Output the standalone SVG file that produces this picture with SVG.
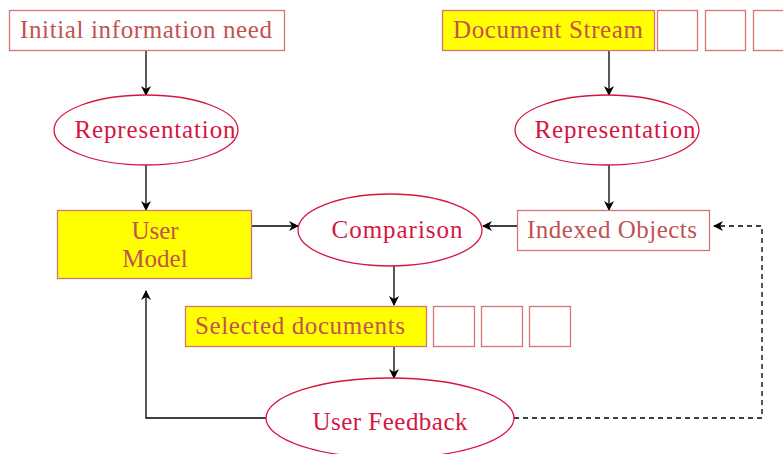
<svg xmlns="http://www.w3.org/2000/svg" width="783" height="454" viewBox="0 0 783 454">
  <defs>
    <marker id="arrow" viewBox="0 0 10 10" refX="9" refY="5" markerWidth="10" markerHeight="10" markerUnits="userSpaceOnUse" orient="auto">
      <path d="M0,0 L10,5 L0,10 L3,5 Z" fill="#000"/>
    </marker>
  </defs>
  <style>
    .box { fill: #fff; stroke: #d27575; stroke-width: 1.3; }
    .hl { fill: #ffff00; stroke: #d27575; stroke-width: 1.3; }
    .ell { fill: #fff; stroke: #d6163f; stroke-width: 1.3; }
    .bt { font-family: "Liberation Serif", "DejaVu Serif", serif; font-size: 25px; fill: #c25252; text-anchor: middle; }
    .et { font-family: "Liberation Serif", "DejaVu Serif", serif; font-size: 25px; fill: #d6163f; text-anchor: middle; }
    .edge { fill: none; stroke: #000; stroke-width: 1.3; }
    .dash { stroke-dasharray: 5 4; }
  </style>

  <!-- connectors -->
  <g id="connectors">
    <line class="edge" x1="146" y1="50" x2="146" y2="95" marker-end="url(#arrow)"/>
    <line class="edge" x1="609" y1="50" x2="609" y2="95" marker-end="url(#arrow)"/>
    <line class="edge" x1="146" y1="165" x2="146" y2="210" marker-end="url(#arrow)"/>
    <line class="edge" x1="609" y1="165" x2="609" y2="210" marker-end="url(#arrow)"/>
    <line class="edge" x1="251" y1="226" x2="298" y2="226" marker-end="url(#arrow)"/>
    <line class="edge" x1="517" y1="226" x2="483" y2="226" marker-end="url(#arrow)"/>
    <line class="edge" x1="394" y1="266" x2="394" y2="305" marker-end="url(#arrow)"/>
    <line class="edge" x1="394" y1="346" x2="394" y2="378" marker-end="url(#arrow)"/>
    <polyline class="edge" points="266,418 146,418 146,291" marker-end="url(#arrow)"/>
    <polyline class="edge dash" points="514,418 762,418 762,226 714,226" marker-end="url(#arrow)"/>
  </g>

  <g id="initial-need">
    <rect class="box" x="9.5" y="10.5" width="275" height="40"/>
    <text class="bt" x="146" y="38" textLength="252">Initial information need</text>
  </g>

  <g id="document-stream">
    <rect class="hl" x="442.5" y="10.5" width="212" height="40"/>
    <text class="bt" x="548" y="38" textLength="190">Document Stream</text>
    <rect class="box" x="657.5" y="10.5" width="40" height="40"/>
    <rect class="box" x="705.5" y="10.5" width="40" height="40"/>
    <rect class="box" x="753.5" y="10.5" width="40" height="40"/>
  </g>

  <g id="representation-left">
    <ellipse class="ell" cx="146" cy="130" rx="92" ry="35"/>
    <text class="et" x="155" y="138" textLength="161">Representation</text>
  </g>

  <g id="representation-right">
    <ellipse class="ell" cx="607" cy="130" rx="92" ry="35"/>
    <text class="et" x="615" y="138" textLength="161">Representation</text>
  </g>

  <g id="user-model">
    <rect class="hl" x="57.5" y="210.5" width="194" height="68"/>
    <text class="bt" x="155" y="239">User</text>
    <text class="bt" x="155" y="267">Model</text>
  </g>

  <g id="comparison">
    <ellipse class="ell" cx="390" cy="230" rx="92" ry="36"/>
    <text class="et" x="397" y="238" textLength="131">Comparison</text>
  </g>

  <g id="indexed-objects">
    <rect class="box" x="517.5" y="210.5" width="192" height="40"/>
    <text class="bt" x="612" y="238" textLength="170">Indexed Objects</text>
  </g>

  <g id="selected-documents">
    <rect class="hl" x="185.5" y="306.5" width="241" height="40"/>
    <text class="bt" x="300" y="334" textLength="210">Selected documents</text>
    <rect class="box" x="433.5" y="306.5" width="41" height="40"/>
    <rect class="box" x="481.5" y="306.5" width="41" height="40"/>
    <rect class="box" x="529.5" y="306.5" width="41" height="40"/>
  </g>

  <g id="user-feedback">
    <ellipse class="ell" cx="390" cy="418" rx="124" ry="40"/>
    <text class="et" x="390" y="430" textLength="155">User Feedback</text>
  </g>
</svg>
